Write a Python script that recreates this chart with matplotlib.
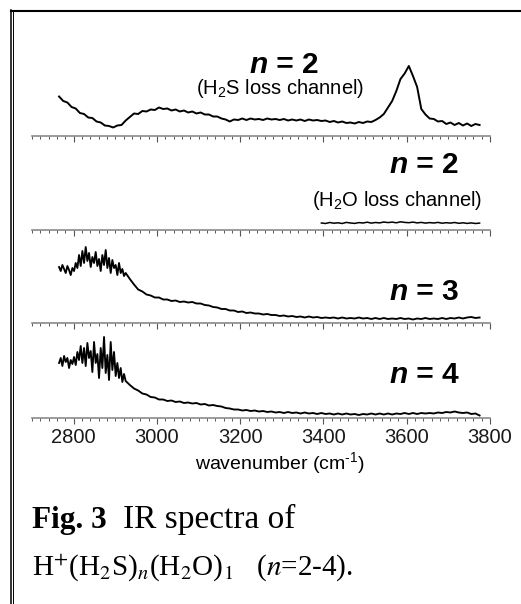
import numpy as np
import matplotlib
matplotlib.use("Agg")
import matplotlib.pyplot as plt
from matplotlib.lines import Line2D
from matplotlib.ticker import MultipleLocator

plt.rcParams['font.family'] = ['Liberation Sans', 'DejaVu Sans']
plt.rcParams['mathtext.fontset'] = 'custom'
plt.rcParams['mathtext.rm'] = 'Liberation Sans'
plt.rcParams['mathtext.it'] = 'Liberation Sans:italic'
plt.rcParams['mathtext.bf'] = 'Liberation Sans:bold'

# ---------------- data (intensity, arbitrary units) ----------------
wn_n2_h2s = np.arange(2765, 3776, 10)
int_n2_h2s = [
    39.5, 35.0, 33.5, 29.0, 27.5, 23.0, 22.0, 18.5, 18.0, 14.5,
    13.5, 10.5, 10.0, 8.5, 10.5, 11.0, 15.5, 19.0, 22.5, 22.0,
    25.0, 24.5, 26.5, 26.0, 28.5, 27.0, 27.5, 25.5, 26.5, 24.5,
    25.5, 23.5, 24.5, 22.5, 23.5, 21.5, 21.5, 19.5, 19.5, 17.5,
    16.5, 14.5, 16.5, 16.0, 17.5, 16.0, 17.5, 16.5, 17.0, 16.0,
    17.5, 16.5, 17.0, 16.0, 17.0, 15.5, 16.5, 15.5, 16.5, 15.0,
    16.5, 15.5, 16.0, 15.0, 15.5, 14.0, 15.0, 13.5, 14.5, 13.0,
    13.5, 12.5, 14.0, 13.0, 14.5, 14.0, 16.0, 18.5, 22.0, 28.5,
    35.0, 45.0, 57.0, 62.5, 70.0, 60.0, 49.0, 27.0, 21.5, 17.5,
    17.0, 14.5, 15.0, 12.0, 13.5, 11.0, 13.0, 10.5, 12.5, 10.0,
    12.0, 11.0,
]

wn_n2_h2o = np.arange(3395, 3776, 10)
int_n2_h2o = [
    7.0, 6.5, 7.5, 6.8, 7.2, 6.5, 7.6, 7.0, 6.6, 7.4,
    7.0, 7.8, 6.9, 7.5, 7.1, 8.0, 7.4, 7.9, 7.2, 8.2,
    7.6, 7.3, 7.9, 7.1, 7.6, 6.9, 7.4, 7.0, 7.6, 6.8,
    7.3, 6.9, 7.5, 6.7, 7.2, 6.6, 7.1, 6.5, 6.9,
]

wn_n3 = np.concatenate([np.arange(2765, 2926, 4), np.arange(2935, 3776, 10)])
int_n3 = [
    56, 52, 58, 54, 50, 57, 53, 48, 55, 52,
    60, 55, 68, 57, 72, 60, 76, 62, 70, 56,
    66, 60, 71, 57, 64, 52, 68, 58, 73, 55,
    65, 50, 63, 55, 58, 48, 60, 50, 54, 47,
    50,
    44.0, 38.5, 33.5, 31.5, 28.5, 27.5, 25.5, 25.5, 23.5, 23.5,
    22.0, 22.5, 21.0, 21.5, 20.5, 21.0, 19.5, 19.5, 18.0, 17.5,
    16.0, 15.5, 14.0, 14.0, 12.5, 12.5, 11.0, 11.5, 10.0, 10.5,
    9.5, 9.5, 8.5, 9.0, 8.0, 8.0, 7.0, 7.5, 6.5, 7.0,
    6.0, 6.5, 5.5, 6.5, 5.5, 6.0, 5.0, 5.5, 5.0, 5.5,
    4.5, 5.5, 4.5, 5.0, 4.5, 5.5, 4.5, 5.0, 4.0, 5.0,
    4.0, 5.0, 4.0, 4.5, 4.0, 5.0, 4.0, 4.5, 3.5, 4.5,
    4.0, 5.0, 4.0, 4.5, 4.0, 5.0, 4.0, 5.0, 4.5, 5.5,
    4.5, 5.5, 6.0, 5.0, 5.5,
]

wn_n4 = np.concatenate([np.arange(2765, 2926, 4), np.arange(2935, 3776, 10)])
int_n4 = [
    55, 60, 52, 62, 56, 60, 50, 58, 54, 61,
    53, 66, 58, 72, 55, 70, 52, 75, 60, 67,
    46, 76, 55, 64, 40, 70, 50, 81, 45, 63,
    38, 76, 48, 66, 42, 55, 40, 50, 36, 44,
    37,
    33.0, 29.5, 27.5, 24.5, 23.5, 21.0, 20.5, 18.5, 18.5, 17.0,
    17.5, 16.0, 16.5, 15.0, 15.5, 14.5, 15.0, 13.5, 14.0, 12.5,
    13.0, 12.0, 11.5, 10.0, 9.5, 8.5, 8.5, 7.5, 8.0, 7.0,
    7.5, 6.5, 7.0, 6.0, 6.5, 5.5, 6.0, 5.0, 6.0, 5.0,
    5.5, 4.5, 5.5, 4.5, 5.0, 4.0, 5.0, 4.0, 4.5, 3.5,
    4.5, 3.5, 4.5, 3.5, 4.0, 3.0, 4.0, 3.5, 4.5, 3.5,
    4.5, 3.5, 4.5, 3.5, 4.5, 4.0, 5.0, 4.0, 5.0, 4.0,
    5.0, 4.5, 5.0, 4.5, 5.5, 5.0, 6.0, 5.5, 6.5, 5.5,
    5.0, 5.5, 4.0, 4.5, 2.5,
]

spectra = [(wn_n2_h2s, int_n2_h2s), (wn_n2_h2o, int_n2_h2o),
           (wn_n3, int_n3), (wn_n4, int_n4)]
n_labels = ["2", "2", "3", "4"]
tick_labels = ["2800", "3000", "3200", "3400", "3600", "3800"]
tick_values = [2800, 3000, 3200, 3400, 3600, 3800]

# ---------------- layout ----------------
W, H = 521, 604
fig = plt.figure(figsize=(W / 100, H / 100), dpi=100)


def fx(px):
    return px / W


def fy(py):
    return 1 - py / H


X_LEFT, X_RIGHT = 32, 490
PANEL_H = 90
baselines = [136, 230, 323, 418]
line_widths = [1.4, 1.1, 1.35, 1.35]
axis_grey = '#8a8a8a'

for i, ((wn, inten), b) in enumerate(zip(spectra, baselines)):
    ax = fig.add_axes([fx(X_LEFT), fy(b), (X_RIGHT - X_LEFT) / W, PANEL_H / H])
    ax.set_facecolor('none')
    ax.plot(wn, inten, color='black', lw=line_widths[i], clip_on=False)
    ax.set_xlim(2700, 3800)
    ax.set_ylim(0, PANEL_H)
    for s in ['left', 'right', 'top']:
        ax.spines[s].set_visible(False)
    ax.spines['bottom'].set_color(axis_grey)
    ax.spines['bottom'].set_linewidth(1.2)
    ax.set_yticks([])
    ax.set_xticks(tick_values)
    ax.xaxis.set_minor_locator(MultipleLocator(20))
    ax.tick_params(axis='x', which='major', length=4, width=0.8,
                   color='#555555', direction='out', pad=3,
                   labelsize=14.5, labelcolor='#1a1a1a')
    ax.tick_params(axis='x', which='minor', length=2.5, width=0.7,
                   color='#555555', direction='out')
    if i < 3:
        ax.tick_params(axis='x', labelbottom=False)
    else:
        ax.set_xticklabels(tick_labels)
        ax.set_xlabel(r"wavenumber (cm$^{\text{-1}}$)", fontsize=14)
        ax.xaxis.set_label_coords((280 - X_LEFT) / (X_RIGHT - X_LEFT),
                                  -(463 - b) / PANEL_H)
        ax.xaxis.label.set_verticalalignment('center')

# ---------------- panel labels ----------------
label_pos = [(268, 73), (408, 173), (408, 300), (408, 383)]
for (xb, yb), k in zip(label_pos, n_labels):
    fig.text(fx(xb), fy(yb), "n", ha='right', va='baseline', fontsize=21.5,
             fontweight='bold', fontstyle='italic')
    fig.text(fx(xb), fy(yb), " = " + k, ha='left', va='baseline',
             fontsize=21.5, fontweight='bold')

fig.text(fx(280), fy(94), "(H$_2$S loss channel)", ha='center',
         va='baseline', fontsize=14.5)
fig.text(fx(397), fy(206), "(H$_2$O loss channel)", ha='center',
         va='baseline', fontsize=14.5)

# ---------------- caption ----------------
fig.text(fx(32), fy(528), "Fig. 3", family='Liberation Serif',
         fontweight='bold', fontsize=22.5, va='baseline', ha='left')
fig.text(fx(123), fy(528), "IR spectra of", family='Liberation Serif',
         fontsize=24, va='baseline', ha='left')
fig.text(fx(32), fy(575), r"H$^{+}$(H$_2$S)$_{n}$(H$_2$O)$_1$   ($n$=2-4).",
         family='Liberation Serif', math_fontfamily='stix', fontsize=21,
         va='baseline', ha='left')

# ---------------- frame ----------------
fig.add_artist(Line2D([fx(10.5), fx(521)], [fy(11), fy(11)],
                      transform=fig.transFigure, color='black', lw=1.5))
fig.add_artist(Line2D([fx(10.8), fx(10.8)], [fy(10.3), fy(604)],
                      transform=fig.transFigure, color='black', lw=1.1))
fig.add_artist(Line2D([fx(13.2), fx(13.2)], [fy(11), fy(604)],
                      transform=fig.transFigure, color='black', lw=0.7))

fig.savefig("out.png", dpi=100)
